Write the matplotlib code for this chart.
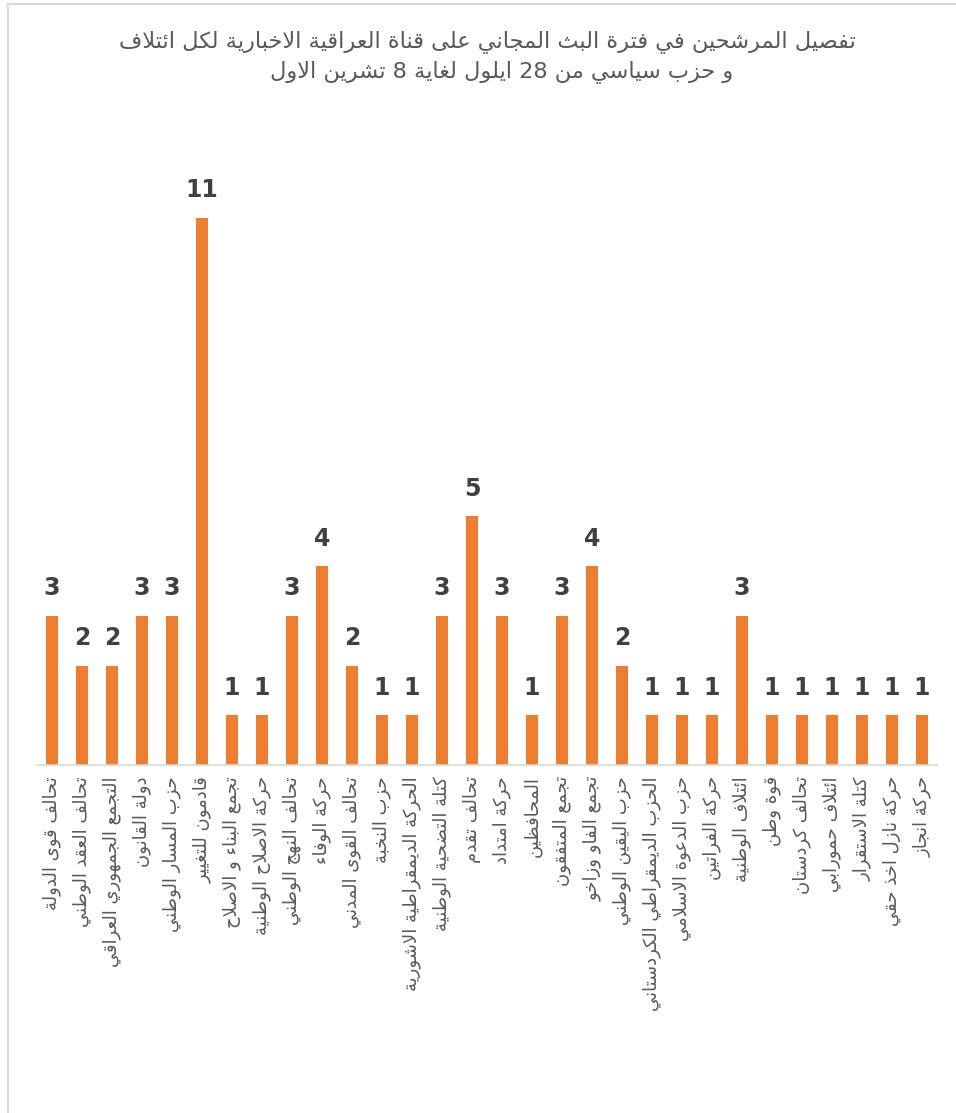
import re
import matplotlib
matplotlib.use("Agg")
import matplotlib.pyplot as plt
from matplotlib.lines import Line2D

# ---------------- data ----------------
title_lines = [
    "تفصيل المرشحين في فترة البث المجاني على قناة العراقية الاخبارية لكل ائتلاف",
    "و حزب سياسي من 28 ايلول لغاية 8 تشرين الاول",
]
categories = [
    "تحالف قوى الدولة", "تحالف العقد الوطني", "التجمع الجمهوري العراقي",
    "دولة القانون", "حزب المسار الوطني", "قادمون للتغيير",
    "تجمع البناء و الاصلاح", "حركة الاصلاح الوطنية", "تحالف النهج الوطني",
    "حركة الوفاء", "تحالف القوى المدني", "حزب النخبة",
    "الحركة الديمقراطية الاشورية", "كتلة التضحية الوطنية", "تحالف تقدم",
    "حركة امتداد", "المحافظين", "تجمع المتفقون",
    "تجمع الفاو وزاخو", "حزب اليقين الوطني", "الحزب الديمقراطي الكردستاني",
    "حزب الدعوة الاسلامي", "حركة الفراتين", "ائتلاف الوطنية",
    "قوة وطن", "تحالف كردستان", "ائتلاف حمورابي",
    "كتلة الاستقرار", "حركة نازل اخذ حقي", "حركة انجاز",
]
values = [3, 2, 2, 3, 3, 11, 1, 1, 3, 4, 2, 1, 1, 3, 5,
          3, 1, 3, 4, 2, 1, 1, 1, 3, 1, 1, 1, 1, 1, 1]

# ------------- Arabic shaping (contextual forms + visual order) -------------
_counts = [1, 2, 2, 2, 2, 4, 2, 4, 2, 4, 4, 4, 4, 4, 2, 2, 2, 2,
           4, 4, 4, 4, 4, 4, 4, 4,
           4, 4, 4, 4, 4, 4, 4, 2, 2, 4]
_cps = list(range(0x621, 0x63B)) + list(range(0x641, 0x64B))
FORMS = {}
_code = 0xFE80
for _cp, _n in zip(_cps, _counts):
    FORMS[chr(_cp)] = [chr(_code + k) for k in range(_n)]
    _code += _n
LAM_ALEF = {"\u0622": 0xFEF5, "\u0623": 0xFEF7, "\u0625": 0xFEF9, "\u0627": 0xFEFB}


def _dual(c):
    return c in FORMS and len(FORMS[c]) == 4


def _joinable(c):
    return c in FORMS and len(FORMS[c]) >= 2


def shape(s):
    chars = list(s)
    n = len(chars)
    out = []
    i = 0
    while i < n:
        c = chars[i]
        jp = i > 0 and _dual(chars[i - 1]) and _joinable(c)
        if c == "\u0644" and i + 1 < n and chars[i + 1] in LAM_ALEF:
            out.append(chr(LAM_ALEF[chars[i + 1]] + (1 if jp else 0)))
            i += 2
            continue
        if c in FORMS:
            f = FORMS[c]
            if len(f) == 1:
                out.append(f[0])
            else:
                jn = _dual(c) and i + 1 < n and _joinable(chars[i + 1])
                idx = 3 if (jp and jn) else 2 if jn else 1 if jp else 0
                out.append(f[idx])
        else:
            out.append(c)
        i += 1
    vis = "".join(out)[::-1]
    return re.sub(r"[0-9]+", lambda m: m.group()[::-1], vis)


# ---------------- figure ----------------
W, H = 956, 1113
fig = plt.figure(figsize=(W / 100, H / 100), dpi=100)
fig.patch.set_facecolor("white")
# chart-area border (only the top and left edges are inside the image)
fig.add_artist(Line2D([7.5 / W, 1], [1 - 4 / H, 1 - 4 / H], transform=fig.transFigure,
                      color="#D9D9D9", linewidth=1.5))
fig.add_artist(Line2D([7.5 / W, 7.5 / W], [0, 1 - 4 / H], transform=fig.transFigure,
                      color="#D9D9D9", linewidth=1.5))

ax = fig.add_axes([37 / W, 1 - 765 / H, 900 / W, 597 / H])
x = list(range(len(categories)))
bars = ax.bar(x, values, width=0.42, color="#ED7D31")
ax.set_xlim(-0.5, len(categories) - 0.5)
ax.set_ylim(0, 12)

for b, v in zip(bars, values):
    ax.annotate(str(v), (b.get_x() + b.get_width() / 2, v), xytext=(0, 11),
                textcoords="offset points", ha="center", va="bottom",
                fontsize=17, fontweight="bold", color="#404040",
                family="DejaVu Sans")

for s in ["top", "right", "left"]:
    ax.spines[s].set_visible(False)
ax.spines["bottom"].set_color("#D9D9D9")
ax.spines["bottom"].set_linewidth(1.2)
ax.set_yticks([])
ax.set_xticks(x)
ax.set_xticklabels([shape(c) for c in categories], rotation=90, ha="center",
                   va="top", fontsize=13, color="#595959", family="DejaVu Sans")
ax.tick_params(axis="x", length=0, pad=8)

fig.text(0.51, 1 - 42 / H, shape(title_lines[0]), ha="center", va="center",
         fontsize=16.2, color="#595959", family="DejaVu Sans")
fig.text(0.525, 1 - 72 / H, shape(title_lines[1]), ha="center", va="center",
         fontsize=16.2, color="#595959", family="DejaVu Sans")

fig.savefig("out.png", dpi=100)
